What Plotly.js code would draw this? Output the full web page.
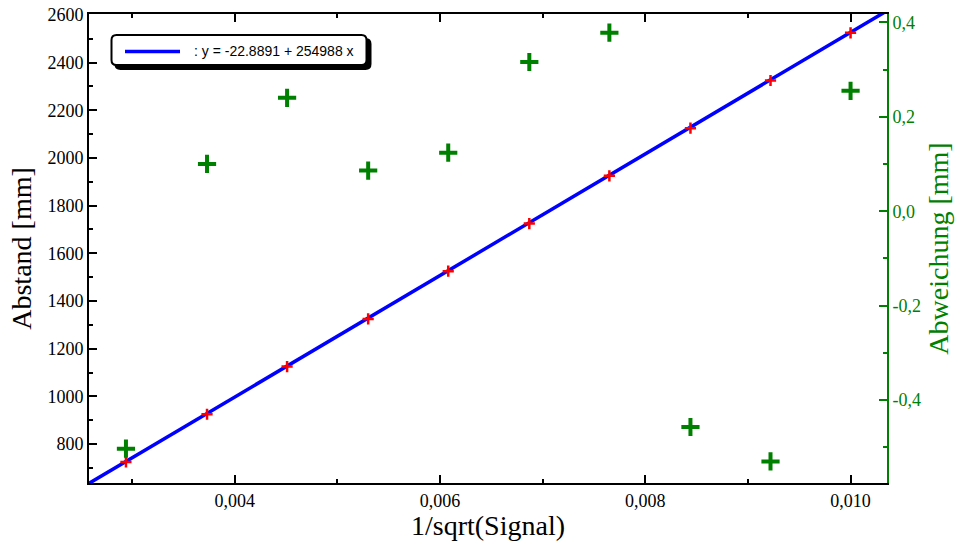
<!DOCTYPE html>
<html>
<head>
<meta charset="utf-8">
<script src="https://cdn.plot.ly/plotly-3.0.1.min.js"></script>
<style>html,body{margin:0;padding:0;background:#fff;}#chart{width:960px;height:541px;}</style>
</head>
<body>
<div id="chart"></div>
<script>
// ---- data ----
const xSignal = [0.00294, 0.00373, 0.00451, 0.00530, 0.00608, 0.00687, 0.00765, 0.00844, 0.00922, 0.01000];
const abstand = [725, 925, 1125, 1325, 1525, 1725, 1925, 2125, 2325, 2525];
const abweichung = [-0.503, 0.100, 0.240, 0.086, 0.124, 0.316, 0.378, -0.457, -0.530, 0.255];
const fitIntercept = -22.8891;
const fitSlope = 254988;
const fitLabel = ': y = -22.8891 + 254988 x';
const y2TickVals = [-0.4, -0.2, 0, 0.2, 0.4];
const y2TickText = ['-0,4', '-0,2', '0,0', '0,2', '0,4'];

const xRange = [0.00258, 0.010355];
const yRange = [636.5, 2604];
const y2Range = [-0.5756, 0.4176];

const fitX = xRange.slice();
const fitY = fitX.map(v => fitIntercept + fitSlope * v);

const GREEN = 'rgb(0,128,0)';
const M = {l: 89, r: 73, t: 14, b: 58};
const W = 960, H = 541;
const PW = W - M.l - M.r, PH = H - M.t - M.b;
const px = v => (v - M.l) / PW;
const py = v => (H - M.b - v) / PH;

function roundRect(x0, y0, x1, y1, r) {
  // pixel coordinates -> paper path
  const X = v => px(v).toFixed(5), Y = v => py(v).toFixed(5);
  return 'M' + X(x0 + r) + ',' + Y(y0) +
    ' L' + X(x1 - r) + ',' + Y(y0) +
    ' Q' + X(x1) + ',' + Y(y0) + ' ' + X(x1) + ',' + Y(y0 + r) +
    ' L' + X(x1) + ',' + Y(y1 - r) +
    ' Q' + X(x1) + ',' + Y(y1) + ' ' + X(x1 - r) + ',' + Y(y1) +
    ' L' + X(x0 + r) + ',' + Y(y1) +
    ' Q' + X(x0) + ',' + Y(y1) + ' ' + X(x0) + ',' + Y(y1 - r) +
    ' L' + X(x0) + ',' + Y(y0 + r) +
    ' Q' + X(x0) + ',' + Y(y0) + ' ' + X(x0 + r) + ',' + Y(y0) + ' Z';
}

const traces = [
  {x: fitX, y: fitY, mode: 'lines', name: fitLabel, line: {color: 'rgb(0,0,255)', width: 3.5}, showlegend: false, hoverinfo: 'skip'},
  {x: xSignal, y: abstand, mode: 'markers', name: 'Abstand', showlegend: false,
   marker: {symbol: 'cross-thin', size: 8, color: 'rgb(255,0,0)', line: {color: 'rgb(255,0,0)', width: 2.5}}},
  {x: xSignal, y: abweichung, yaxis: 'y2', mode: 'markers', name: 'Abweichung', showlegend: false,
   marker: {symbol: 'cross-thin', size: 13, color: GREEN, line: {color: GREEN, width: 4}}}
];

const serif = '"Liberation Serif", "Times New Roman", serif';

const layout = {
  width: W, height: H,
  margin: M,
  paper_bgcolor: '#fff', plot_bgcolor: '#fff',
  separators: ', ',
  showlegend: false,
  font: {family: serif, size: 18, color: '#000'},
  xaxis: {
    range: xRange, showgrid: false, zeroline: false,
    showline: true, linecolor: '#000', linewidth: 2, mirror: 'ticks',
    ticks: 'inside', ticklen: 8, tickwidth: 2, tickcolor: '#000',
    tick0: 0, dtick: 0.002, tickformat: '.3f',
    minor: {ticks: 'inside', ticklen: 4, tickwidth: 2, tickcolor: '#000', dtick: 0.001, tick0: 0, showgrid: false},
    tickfont: {family: serif, size: 18, color: '#000'},
    title: {text: '1/sqrt(Signal)', font: {family: serif, size: 28, color: '#000'}, standoff: 6}
  },
  yaxis: {
    range: yRange, showgrid: false, zeroline: false,
    showline: true, linecolor: '#000', linewidth: 2,
    ticks: 'inside', ticklen: 8, tickwidth: 2, tickcolor: '#000',
    tick0: 0, dtick: 200,
    minor: {ticks: 'inside', ticklen: 4, tickwidth: 2, tickcolor: '#000', dtick: 100, tick0: 0, showgrid: false},
    tickfont: {family: serif, size: 18, color: '#000'},
    title: {text: 'Abstand [mm]', font: {family: serif, size: 28, color: '#000'}, standoff: 8}
  },
  yaxis2: {
    overlaying: 'y', side: 'right', anchor: 'x',
    range: y2Range, showgrid: false, zeroline: false,
    showline: true, linecolor: GREEN, linewidth: 2,
    ticks: 'inside', ticklen: 8, tickwidth: 2, tickcolor: GREEN,
    tickmode: 'array', tickvals: y2TickVals, ticktext: y2TickText,
    minor: {ticks: 'inside', ticklen: 4, tickwidth: 2, tickcolor: GREEN, dtick: 0.1, tick0: 0, showgrid: false},
    tickfont: {family: serif, size: 18, color: GREEN},
    title: {text: 'Abweichung [mm]', font: {family: serif, size: 28, color: GREEN}, standoff: 8}
  },
  shapes: [
    {type: 'path', xref: 'paper', yref: 'paper', path: roundRect(115.5, 39, 370.5, 69, 5),
     fillcolor: '#000', line: {color: '#000', width: 2}, layer: 'above'},
    {type: 'path', xref: 'paper', yref: 'paper', path: roundRect(111.5, 35, 366.5, 65, 5),
     fillcolor: '#fff', line: {color: '#000', width: 2}, layer: 'above'},
    {type: 'line', xref: 'paper', yref: 'paper', x0: px(125), x1: px(180), y0: py(51.5), y1: py(51.5),
     line: {color: 'rgb(0,0,255)', width: 3.5}, layer: 'above'}
  ],
  annotations: [
    {xref: 'paper', yref: 'paper', x: px(192), y: py(51), xanchor: 'left', yanchor: 'middle',
     text: fitLabel, showarrow: false,
     font: {family: '"Liberation Sans", Arial, sans-serif', size: 14, color: '#000'}}
  ]
};

Plotly.newPlot('chart', traces, layout, {displayModeBar: false, staticPlot: true});
</script>
</body>
</html>
